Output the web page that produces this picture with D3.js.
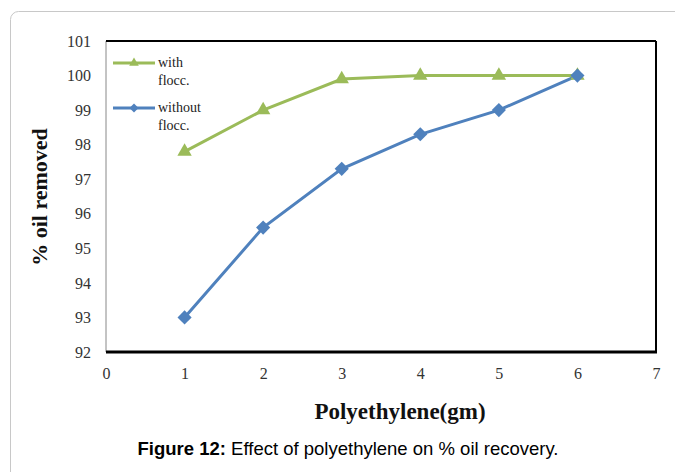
<!DOCTYPE html>
<html>
<head>
<meta charset="utf-8">
<script src="https://cdn.jsdelivr.net/npm/d3@7"></script>
<style>
  html, body { margin: 0; padding: 0; background: #fff; }
  svg { display: block; }
</style>
</head>
<body>
<svg id="chart" width="675" height="472"></svg>
<script>
// Polyethylene dose (gm) and % oil removed
const doses = [1, 2, 3, 4, 5, 6];
const withFlocc = [97.8, 99.0, 99.9, 100.0, 100.0, 100.0];
const withoutFlocc = [93.0, 95.6, 97.3, 98.3, 99.0, 100.0];
const xTicks = [0, 1, 2, 3, 4, 5, 6, 7];
const yTicks = [92, 93, 94, 95, 96, 97, 98, 99, 100, 101];

const svg = d3.select("#chart");
const serif = "'Liberation Serif', 'Times New Roman', serif";
const sans = "'Liberation Sans', Arial, sans-serif";

// outer panel frame
svg.append("rect")
  .attr("x", 10.5).attr("y", 11.5)
  .attr("width", 700).attr("height", 500)
  .attr("rx", 8).attr("ry", 8)
  .attr("fill", "#fff").attr("stroke", "#c8c8c8").attr("stroke-width", 1);

const plot = { left: 106, top: 41, right: 656, bottom: 352 };

const x = d3.scaleLinear().domain([0, 7]).range([plot.left, plot.right]);
const y = d3.scaleLinear().domain([92, 101]).range([plot.bottom, plot.top]);

// plot frame: thin left, heavy top/right/bottom
svg.append("line").attr("x1", plot.left).attr("x2", plot.left)
  .attr("y1", plot.top).attr("y2", plot.bottom)
  .attr("stroke", "#888").attr("stroke-width", 1);
svg.append("line").attr("x1", plot.left).attr("x2", plot.right)
  .attr("y1", plot.top).attr("y2", plot.top)
  .attr("stroke", "#000").attr("stroke-width", 2);
svg.append("line").attr("x1", plot.right).attr("x2", plot.right)
  .attr("y1", plot.top).attr("y2", plot.bottom)
  .attr("stroke", "#000").attr("stroke-width", 2);
svg.append("line").attr("x1", plot.left).attr("x2", plot.right + 1)
  .attr("y1", plot.bottom).attr("y2", plot.bottom)
  .attr("stroke", "#000").attr("stroke-width", 3);

// axes (labels only)
const yAxis = svg.append("g")
  .attr("transform", `translate(${plot.left - 15},0)`)
  .call(d3.axisLeft(y).tickValues(yTicks).tickSize(0).tickPadding(0).tickFormat(d3.format("d")));
yAxis.select(".domain").remove();
yAxis.selectAll("text")
  .attr("font-family", serif).attr("font-size", 16).attr("fill", "#333");

const xAxis = svg.append("g")
  .attr("transform", `translate(0,${plot.bottom + 16})`)
  .call(d3.axisBottom(x).tickValues(xTicks).tickSize(0).tickPadding(0).tickFormat(d3.format("d")));
xAxis.select(".domain").remove();
xAxis.selectAll("text")
  .attr("font-family", serif).attr("font-size", 16).attr("fill", "#333");

// axis titles
svg.append("text")
  .attr("transform", `translate(47,197) rotate(-90)`)
  .attr("text-anchor", "middle")
  .attr("font-family", serif).attr("font-weight", "bold").attr("font-size", 22)
  .attr("fill", "#111")
  .text("% oil removed");

svg.append("text")
  .attr("x", 400).attr("y", 419)
  .attr("text-anchor", "middle")
  .attr("font-family", serif).attr("font-weight", "bold").attr("font-size", 23)
  .attr("fill", "#111")
  .text("Polyethylene(gm)");

// series
const green = "#9bbb59", blue = "#4f81bd";
const line = d3.line().x(d => x(d[0])).y(d => y(d[1]));

const series = [
  { name: ["with", "flocc."], values: withFlocc, color: green, symbol: d3.symbolTriangle, size: 90, rot: 0 },
  { name: ["without", "flocc."], values: withoutFlocc, color: blue, symbol: d3.symbolSquare, size: 100, rot: 45 }
];

// draw the blue series first so the green line sits beneath where they meet
[series[1], series[0]].forEach(s => {
  const pts = doses.map((d, i) => [d, s.values[i]]);
  svg.append("path").datum(pts)
    .attr("d", line)
    .attr("fill", "none").attr("stroke", s.color).attr("stroke-width", 3);
});
[series[0], series[1]].forEach(s => {
  const pts = doses.map((d, i) => [d, s.values[i]]);
  svg.append("g").selectAll("path").data(pts).join("path")
    .attr("transform", d => `translate(${x(d[0])},${y(d[1])}) rotate(${s.rot})`)
    .attr("d", d3.symbol().type(s.symbol).size(s.size))
    .attr("fill", s.color);
});

// legend
const legend = svg.append("g");
series.forEach((s, i) => {
  const ly = 63 + i * 45;
  legend.append("line").attr("x1", 113).attr("x2", 155).attr("y1", ly).attr("y2", ly)
    .attr("stroke", s.color).attr("stroke-width", 3);
  legend.append("path")
    .attr("transform", `translate(134,${ly}) rotate(${s.rot})`)
    .attr("d", d3.symbol().type(s.symbol).size(40))
    .attr("fill", s.color);
  s.name.forEach((t, j) => {
    legend.append("text")
      .attr("x", 158).attr("y", ly + 4 + j * 18)
      .attr("font-family", serif).attr("font-size", 14).attr("fill", "#222")
      .text(t);
  });
});

// caption
const cap = svg.append("text")
  .attr("x", 348).attr("y", 455)
  .attr("text-anchor", "middle")
  .attr("font-family", sans).attr("font-size", 18.5).attr("fill", "#000");
cap.append("tspan").attr("font-weight", "bold").text("Figure 12:");
cap.append("tspan").text(" Effect of polyethylene on % oil recovery.");
</script>
</body>
</html>
